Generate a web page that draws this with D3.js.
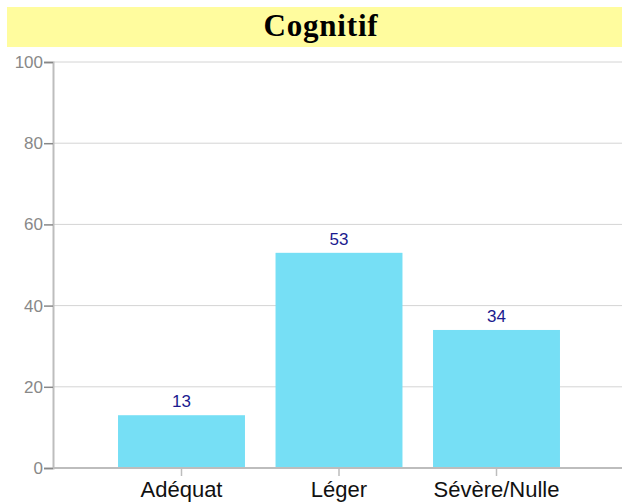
<!DOCTYPE html>
<html>
<head>
<meta charset="utf-8">
<script src="https://cdn.jsdelivr.net/npm/d3@7"></script>
<style>
  body { margin: 0; background: #fff; }
  svg { display: block; }
</style>
</head>
<body>
<div id="chart"></div>
<script>
const title = "Cognitif";
const categories = ["Adéquat", "Léger", "Sévère/Nulle"];
const values = [13, 53, 34];
const yTicks = [0, 20, 40, 60, 80, 100];

const W = 622, H = 504;
const svg = d3.select("#chart").append("svg")
    .attr("width", W)
    .attr("height", H);

// title band
svg.append("rect")
    .attr("x", 7).attr("y", 7)
    .attr("width", W - 7).attr("height", 40)
    .attr("fill", "#fffc9e");
svg.append("text")
    .attr("x", 321).attr("y", 36)
    .attr("text-anchor", "middle")
    .style("font-family", "'Liberation Serif', 'Times New Roman', serif")
    .style("font-weight", "bold")
    .style("font-size", "31px")
    .style("letter-spacing", "0.8px")
    .text(title);

const plotLeft = 53, plotRight = W, plotTop = 62, plotBottom = 468;

const y = d3.scaleLinear().domain([0, 100]).range([plotBottom, plotTop]);
const x = d3.scaleBand()
    .domain(categories)
    .range([102.75, 575.25])
    .paddingInner(0.194)
    .paddingOuter(0.097);

// gridlines
svg.append("g")
    .selectAll("line")
    .data(yTicks)
    .join("line")
    .attr("x1", plotLeft).attr("x2", plotRight)
    .attr("y1", d => y(d)).attr("y2", d => y(d))
    .attr("stroke", "#d4d4d4")
    .attr("stroke-width", 1);

// y axis
const yAxis = svg.append("g")
    .attr("transform", `translate(${plotLeft},0)`)
    .call(d3.axisLeft(y).tickValues(yTicks).tickSize(9).tickPadding(1));
yAxis.select(".domain").attr("stroke", "#bdbdbd").attr("stroke-width", 2);
yAxis.selectAll(".tick line").attr("stroke", "#888").attr("stroke-width", 1.5);
yAxis.selectAll(".tick text")
    .attr("fill", "#888")
    .style("font-family", "Arial, 'Liberation Sans', sans-serif")
    .style("font-size", "17px");

// bars
svg.append("g")
    .selectAll("rect")
    .data(values)
    .join("rect")
    .attr("x", (d, i) => x(categories[i]))
    .attr("y", d => y(d))
    .attr("width", x.bandwidth())
    .attr("height", d => plotBottom - y(d))
    .attr("fill", "#76dff5");

// value labels
svg.append("g")
    .selectAll("text")
    .data(values)
    .join("text")
    .attr("x", (d, i) => x(categories[i]) + x.bandwidth() / 2)
    .attr("y", d => y(d) - 8)
    .attr("text-anchor", "middle")
    .attr("fill", "#1a1a8f")
    .style("font-family", "Arial, 'Liberation Sans', sans-serif")
    .style("font-size", "17px")
    .text(d => d);

// x axis
const xAxis = svg.append("g")
    .attr("transform", `translate(0,${plotBottom})`)
    .call(d3.axisBottom(x).tickSize(8).tickPadding(5).tickSizeOuter(0));
xAxis.select(".domain")
    .attr("d", `M${plotLeft},0H${plotRight}`)
    .attr("stroke", "#bdbdbd").attr("stroke-width", 2);
xAxis.selectAll(".tick line").attr("stroke", "#bdbdbd").attr("stroke-width", 1.5);
xAxis.selectAll(".tick text")
    .attr("fill", "#111")
    .style("font-family", "Arial, 'Liberation Sans', sans-serif")
    .style("font-size", "22px");
</script>
</body>
</html>
